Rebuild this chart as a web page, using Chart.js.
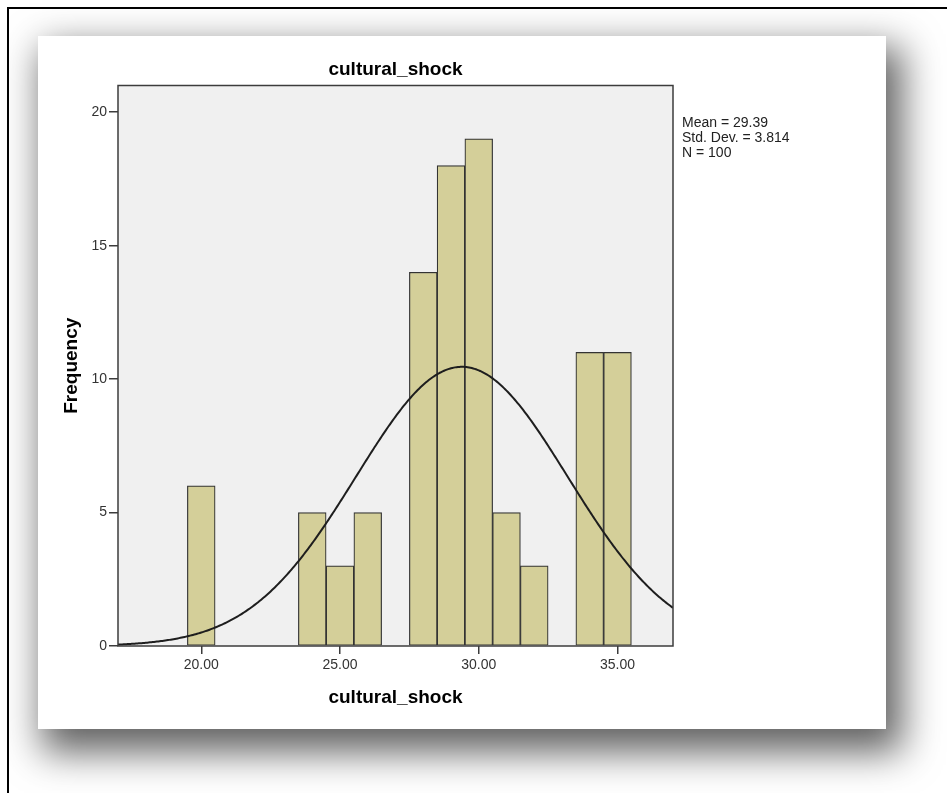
<!DOCTYPE html>
<html>
<head>
<meta charset="utf-8">
<script src="https://cdn.jsdelivr.net/npm/chart.js@4/dist/chart.umd.min.js"></script>
<style>
  html, body { margin: 0; padding: 0; background: #ffffff; }
  body { width: 947px; height: 793px; position: relative; overflow: hidden; font-family: "Liberation Sans", Arial, sans-serif; }
  #frame { position: absolute; left: 7px; top: 7px; width: 960px; height: 800px; border-left: 2px solid #000; border-top: 2px solid #000; }
  #panel { position: absolute; left: 38px; top: 36px; width: 848px; height: 693px; background: #fff;
           box-shadow: 10px 17px 36px 6px rgba(0,0,0,0.62); }
  #chartWrap { position: absolute; left: 0; top: 0; width: 947px; height: 793px; }
  #stats { position: absolute; left: 682px; top: 115px; font-size: 14px; line-height: 15px; color: #222; white-space: pre; }
</style>
</head>
<body>
<div id="frame"></div>
<div id="panel"></div>
<div id="chartWrap"><canvas id="hist" width="947" height="793"></canvas></div>
<div id="stats"></div>
<script>
// Histogram of cultural_shock (bin width 1, centred on whole numbers)
const binCenters  = [20, 24, 25, 26, 28, 29, 30, 31, 32, 34, 35];
const frequencies = [ 6,  5,  3,  5, 14, 18, 19,  5,  3, 11, 11];
const xTickValues = [20, 25, 30, 35];
const yTickValues = [0, 5, 10, 15, 20];

// Summary statistics shown beside the plot
const mean = 29.39;
const stdDev = 3.814;
const nCases = 100;
const binWidth = 1;

document.getElementById('stats').textContent =
  'Mean = ' + mean + '\nStd. Dev. = ' + stdDev + '\nN = ' + nCases;

// Fitted normal curve, scaled to counts per bin
const curveX = [];
for (let x = 17; x <= 37.0001; x += 0.05) curveX.push(+x.toFixed(2));
const normalCurve = curveX.map(x => ({
  x: x,
  y: nCases * binWidth * Math.exp(-0.5 * Math.pow((x - mean) / stdDev, 2)) / (stdDev * Math.sqrt(2 * Math.PI))
}));

const axisColor = '#3c3c3c';
const fontFamily = '"Liberation Sans", Arial, sans-serif';

const plotFrame = {
  id: 'plotFrame',
  beforeDatasetsDraw(chart) {
    const { ctx, chartArea: a } = chart;
    ctx.save();
    ctx.fillStyle = '#f0f0f0';
    ctx.fillRect(a.left, a.top, a.right - a.left, a.bottom - a.top);
    ctx.restore();
  },
  afterDraw(chart) {
    const { ctx, chartArea: a } = chart;
    ctx.save();
    ctx.strokeStyle = axisColor;
    ctx.lineWidth = 1.5;
    ctx.strokeRect(a.left, a.top, a.right - a.left, a.bottom - a.top);
    ctx.restore();
  }
};

new Chart(document.getElementById('hist'), {
  type: 'bar',
  data: {
    datasets: [
      {
        type: 'line',
        data: normalCurve,
        borderColor: '#1e1e1e',
        borderWidth: 2,
        pointRadius: 0,
        tension: 0,
        fill: false,
        order: 0
      },
      {
        type: 'bar',
        data: binCenters.map((c, i) => ({ x: c, y: frequencies[i] })),
        backgroundColor: '#d4cf99',
        borderColor: '#333333',
        borderWidth: 1.2,
        borderSkipped: false,
        barPercentage: 1,
        categoryPercentage: 1,
        order: 1
      }
    ]
  },
  options: {
    responsive: false,
    animation: false,
    events: [],
    layout: { padding: { left: 40, top: 40, right: 274, bottom: 77 } },
    plugins: {
      legend: { display: false },
      tooltip: { enabled: false },
      title: { display: false }
    },
    scales: {
      // top axis only carries the chart title, centred over the plot
      xTop: {
        type: 'linear',
        position: 'top',
        min: 17,
        max: 37,
        offset: false,
        afterFit: s => { s.height = 45.5; },
        grid: { display: false },
        border: { display: false },
        ticks: { display: false },
        title: {
          display: true,
          text: 'cultural_shock',
          color: '#000',
          font: { family: fontFamily, size: 19, weight: 'bold' },
          padding: { top: 18.6, bottom: 0 }
        }
      },
      x: {
        type: 'linear',
        position: 'bottom',
        min: 17,
        max: 37,
        offset: false,
        afterFit: s => { s.height = 70; },
        afterBuildTicks: s => { s.ticks = xTickValues.map(v => ({ value: v })); },
        grid: { offset: false, drawOnChartArea: false, drawTicks: true, tickLength: 8, color: axisColor, lineWidth: 1.5 },
        border: { display: false },
        ticks: {
          color: '#333',
          padding: 3,
          maxRotation: 0,
          font: { family: fontFamily, size: 14 },
          callback: v => Number(v).toFixed(2)
        },
        title: {
          display: true,
          text: 'cultural_shock',
          color: '#000',
          font: { family: fontFamily, size: 19, weight: 'bold' },
          padding: { top: 0, bottom: 6.6 }
        }
      },
      y: {
        min: 0,
        max: 21,
        afterFit: s => { s.width = 78; },
        afterBuildTicks: s => { s.ticks = yTickValues.map(v => ({ value: v })); },
        grid: { drawOnChartArea: false, drawTicks: true, tickLength: 9, color: axisColor, lineWidth: 1.5 },
        border: { display: false },
        ticks: {
          color: '#333',
          padding: 2,
          font: { family: fontFamily, size: 14 }
        },
        title: {
          display: true,
          text: 'Frequency',
          color: '#000',
          font: { family: fontFamily, size: 19, weight: 'bold' },
          padding: { top: 20, bottom: 0 }
        }
      }
    }
  },
  plugins: [plotFrame]
});
</script>
</body>
</html>
